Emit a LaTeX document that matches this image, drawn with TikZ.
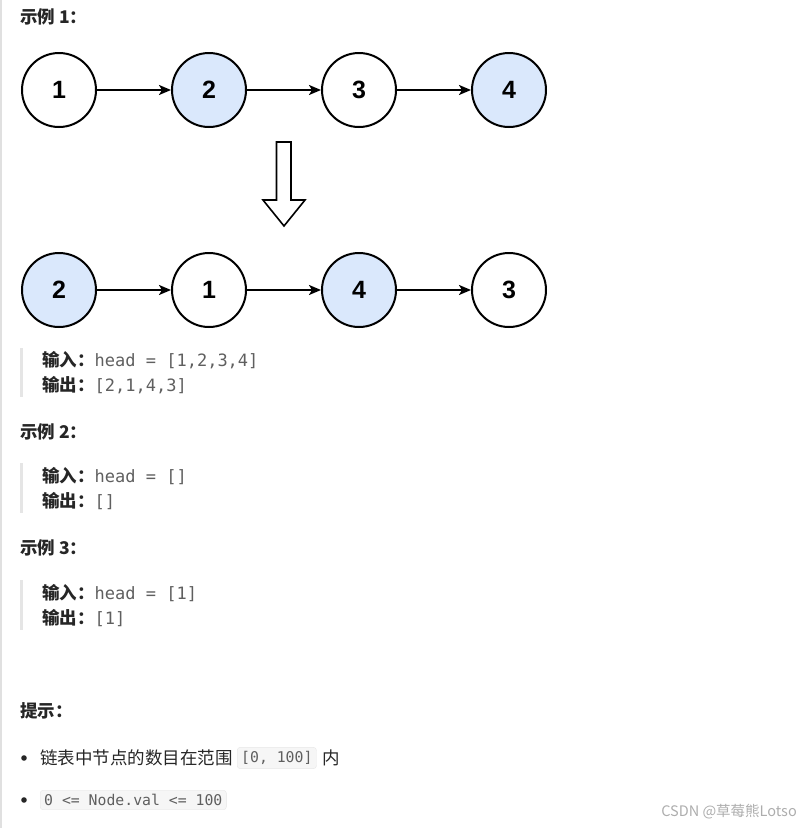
\documentclass[tikz,border=0pt]{standalone}
\usepackage{fontspec}
\setmainfont{Liberation Sans}
\newfontfamily\cjk{Noto Sans CJK SC}
\newfontfamily\mono{DejaVu Sans Mono}
\usetikzlibrary{arrows.meta}
\definecolor{nodeblue}{HTML}{DAE8FC}
\definecolor{txtdark}{HTML}{262626}
\definecolor{txtgray}{HTML}{5F5F5F}
\definecolor{codebg}{HTML}{F6F6F6}
\definecolor{codeline}{HTML}{E6E6E6}
\tikzset{
	lnode/.style={circle,draw,line width=2pt,minimum size=74pt,inner sep=0pt,font=\fontsize{25}{25}\selectfont\bfseries},
	link/.style={-{Stealth[length=12pt,width=10pt,inset=3pt]},line width=2pt},
	head/.style={anchor=west,inner sep=0pt,text=txtdark,font=\cjk\bfseries\fontsize{17.5}{17.5}\selectfont},
	body/.style={anchor=west,inner sep=0pt,text=txtdark,font=\cjk\fontsize{17.5}{17.5}\selectfont},
	codebox/.style={anchor=west,fill=codebg,draw=codeline,rounded corners=3pt,inner xsep=4pt,inner ysep=4pt,text=txtgray,font=\mono\fontsize{14.8}{14.8}\selectfont}
}
\newcommand\inout[2]{{\cjk\bfseries #1：}{\mono\mdseries\fontsize{17}{17}\selectfont\color{txtgray} #2}}
\begin{document}
\begin{tikzpicture}[x=1pt,y=-1pt]
		\useasboundingbox(0,0)rectangle(811,828);
		\fill[black!12](0,0)rectangle(1.5,828);
		% example 1: the lists
		\node[head](t1)at(20,17){示例 1：};
		\foreach\i/\c in{1/white,2/nodeblue,3/white,4/nodeblue}{
			\node[lnode,fill=\c](n\i)at({59+150*(\i-1)},90){\i};}
		\foreach\i/\v/\c in{1/2/nodeblue,2/1/white,3/4/nodeblue,4/3/white}{
			\node[lnode,fill=\c](m\i)at({59+150*(\i-1)},290){\v};}
		\foreach\a/\b in{1/2,2/3,3/4}{
			\draw[link](n\a)--(n\b);
			\draw[link](m\a)--(m\b);}
		\draw[line width=1.6pt,fill=white](276.5,142)--(291,142)--(291,200)--(305,200)--(284,226)--(263,200)--(276.5,200)--cycle;
		\fill[black!10](20,348)rectangle(23,397);
		\node[head](i1)at(42,360){\inout{输入}{head = [1,2,3,4]}};
		\node[head](o1)at(42,385){\inout{输出}{[2,1,4,3]}};
		% example 2
		\node[head](t2)at(20,432){示例 2：};
		\fill[black!10](20,463)rectangle(23,513);
		\node[head](i2)at(42,476){\inout{输入}{head = []}};
		\node[head](o2)at(42,501){\inout{输出}{[]}};
		% example 3
		\node[head](t3)at(20,548){示例 3：};
		\fill[black!10](20,580)rectangle(23,630);
		\node[head](i3)at(42,593){\inout{输入}{head = [1]}};
		\node[head](o3)at(42,618){\inout{输出}{[1]}};
		% hints
		\node[head](t4)at(20,711){提示：};
		\foreach\y in{758,800}{\fill[txtdark](24,\y)circle(2.8pt);}
		\node[body](h1)at(40,758){链表中节点的数目在范围};
		\node[codebox](c1)at(237,758){[0, 100]};
		\node[body](h2)at([xshift=6pt]c1.east){内};
		\node[codebox](c2)at(40,800){0 <= Node.val <= 100};
		\node[anchor=east,inner sep=0pt,text=black!32,font=\cjk\fontsize{14.5}{14.5}\selectfont](wm)at(797,812){CSDN @草莓熊Lotso};
		\end{tikzpicture}
\end{document}
